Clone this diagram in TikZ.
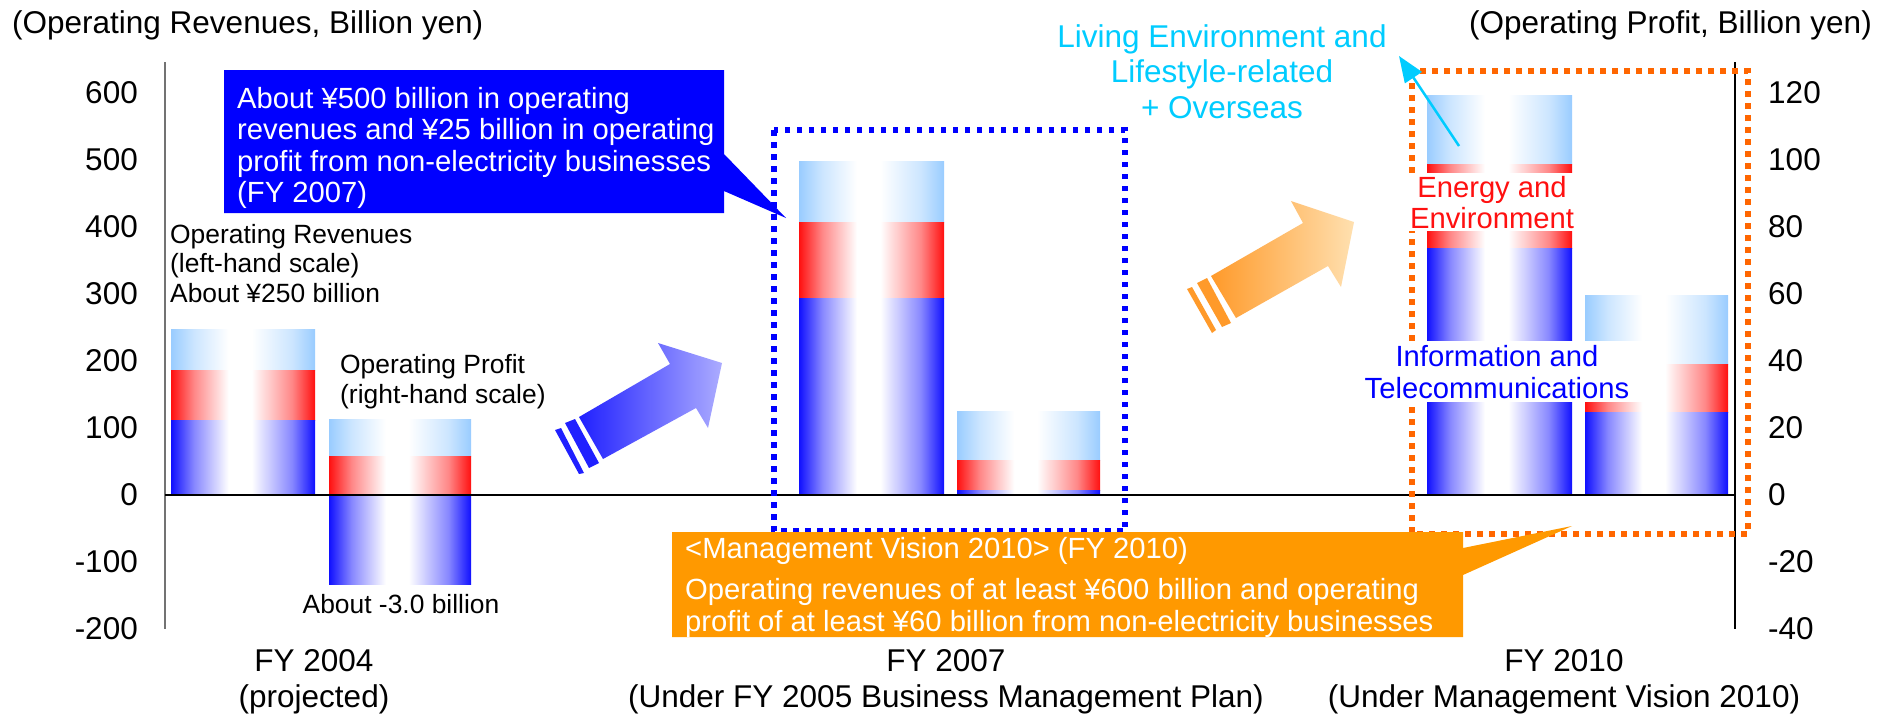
\documentclass[tikz,border=0pt]{standalone}
\usepackage{fontspec}
\setmainfont{Liberation Sans}
\usetikzlibrary{arrows.meta}
\definecolor{segblue}{RGB}{16,16,255}
\definecolor{segred}{RGB}{255,16,16}
\definecolor{seglight}{RGB}{153,204,255}
\colorlet{segblueM}{segblue!50!white}
\colorlet{segredM}{segred!50!white}
\colorlet{seglightM}{seglight!50!white}
\definecolor{boxblue}{RGB}{0,0,255}
\definecolor{boxorange}{RGB}{255,153,0}
\definecolor{dotorange}{RGB}{255,102,0}
\definecolor{livcyan}{RGB}{0,204,255}
\definecolor{arrblueA}{RGB}{32,32,255}
\definecolor{arrblueB}{RGB}{172,172,255}
\definecolor{arrorangeA}{RGB}{255,154,42}
\definecolor{arrorangeB}{RGB}{255,224,176}
\pgfdeclarehorizontalshading{shbl}{100bp}{color(0bp)=(segblue); color(25bp)=(segblue);
  color(33bp)=(segblueM); color(45bp)=(white); color(53bp)=(white);
  color(67bp)=(segblueM); color(75bp)=(segblue); color(100bp)=(segblue)}
\pgfdeclarehorizontalshading{shrd}{100bp}{color(0bp)=(segred); color(25bp)=(segred);
  color(33bp)=(segredM); color(45bp)=(white); color(53bp)=(white);
  color(67bp)=(segredM); color(75bp)=(segred); color(100bp)=(segred)}
\pgfdeclarehorizontalshading{shlb}{100bp}{color(0bp)=(seglight); color(25bp)=(seglight);
  color(33bp)=(seglightM); color(45bp)=(white); color(53bp)=(white);
  color(67bp)=(seglightM); color(75bp)=(seglight); color(100bp)=(seglight)}

\begin{document}
\begin{tikzpicture}[x=1pt,y=-1pt]
  \tikzstyle{every node}=[inner sep=0pt]
  \tikzstyle{big}=[font=\fontsize{31.5}{35.5}\selectfont]
  \tikzstyle{mid}=[font=\fontsize{29.2}{31.5}\selectfont]
  \tikzstyle{small}=[font=\fontsize{26.4}{29.5}\selectfont]
  \tikzstyle{dotbox}=[line width=5.5pt,dash pattern=on 5.5pt off 6.5pt]

  \fill[white] (0,0) rectangle (1890,713);
  \useasboundingbox (0,0) rectangle (1890,713);

  % stacked bars: x from/to, y from/to, shading
  \foreach \xa/\xb/\ya/\yb/\c in {
      171/315/329/370/lb, 171/315/370/420/rd, 171/315/420/495/bl,
      329/471/419/456/lb, 329/471/456/495/rd, 329/471/495/584/bl,
      799/944/161/222/lb, 799/944/222/298/rd, 799/944/298/495/bl,
      957/1100/411/460/lb, 957/1100/460/490/rd, 957/1100/490/495/bl,
      1427/1572/95/164/lb, 1427/1572/164/248/rd, 1427/1572/248/495/bl,
      1585/1728/295/364/lb, 1585/1728/364/412/rd, 1585/1728/412/495/bl}
    \shade[shading=sh\c] (\xa,\ya) rectangle (\xb,\yb);

  % axes
  \draw[black!55,line width=2pt] (165,62) -- (165,629);
  \draw[line width=1.5pt] (1735,62) -- (1735,629);
  \draw[line width=1.5pt] (165,495) -- (1735,495);
  \foreach \v in {600,500,...,-200}
    \node[big,anchor=east] (tickL\v) at (138,{495-0.67*\v}) {\v};
  \foreach \v in {120,100,...,-40}
    \node[big,anchor=west] (tickR\v) at (1768,{495-3.35*\v}) {\v};
  \node[big,anchor=base west] (revtitle) at (12,33) {(Operating Revenues, Billion yen)};
  \node[big,anchor=base east] (proftitle) at (1872,33) {(Operating Profit, Billion yen)};

  % dotted frames
  \draw[dotbox,boxblue] (774,130) rectangle (1125,531);
  \draw[dotbox,dotorange,line width=6.5pt,dash pattern=on 6pt off 6pt] (1412,71) rectangle (1748,534);

  % striped arrows
  \path[left color=arrblueA,right color=arrblueB]
    (579,417) -- (670,364) -- (658,343) -- (722,363) -- (708,428) -- (696,408) -- (603,459) -- cycle;
  \fill[arrblueA] (565,423) -- (575,419) -- (599,463) -- (589,468) -- cycle;
  \fill[arrblueA] (555,430) -- (561,428) -- (584,473) -- (579,474) -- cycle;
  \path[left color=arrorangeA,right color=arrorangeB]
    (1211,276) -- (1303,223) -- (1291,201) -- (1354,222) -- (1341,287) -- (1328,266) -- (1236,318) -- cycle;
  \fill[arrorangeA] (1197,283) -- (1207,278) -- (1231,323) -- (1222,327) -- cycle;
  \fill[arrorangeA] (1187,289) -- (1192,287) -- (1216,330) -- (1212,333) -- cycle;

  % segment labels (base = last line)
  \node[mid,align=center,fill=white,inner xsep=6pt,inner ysep=2.5pt,text=segred,anchor=base]
    (energy) at (1492,228.5) {Energy and\\Environment};
  \node[mid,align=center,fill=white,minimum width=298pt,inner ysep=4pt,text=boxblue,anchor=base]
    (infotel) at (1497,398) {Information and\\Telecommunications};
  \node[big,align=center,text=livcyan,anchor=base] (living) at (1222,118)
    {Living Environment and\\Lifestyle-related\\+ Overseas};
  \coordinate (livpt) at (1459,146);
  \coordinate (livtip) at (1399,56);
  \draw[livcyan,line width=2.5pt,-{Triangle[length=26pt,width=20pt]}] (livpt) -- (livtip);

  % callouts
  \fill[boxblue] (224,70) -- (724,70) -- (724,154) -- (786,218) -- (724,191) -- (724,213) -- (224,213) -- cycle;
  \node[mid,align=left,text=white,anchor=base west] (note07) at (237,202.5)
    {About ¥500 billion in operating\\revenues and ¥25 billion in operating\\profit from non-electricity businesses\\(FY 2007)};
  \fill[boxorange] (672,532) -- (1463,532) -- (1463,548) -- (1572,526) -- (1463,575) -- (1463,637) -- (672,637) -- cycle;
  \node[mid,align=left,text=white,anchor=base west] (note10) at (685,631)
    {<Management Vision 2010> (FY 2010)\\[9.5pt]Operating revenues of at least ¥600 billion and operating\\profit of at least ¥60 billion from non-electricity businesses};

  % bar notes
  \node[small,align=left,anchor=base west] (revnote) at (170,302)
    {Operating Revenues\\(left-hand scale)\\About ¥250 billion};
  \node[small,align=left,anchor=base west] (profnote) at (340,403)
    {Operating Profit\\(right-hand scale)};
  \node[small,anchor=base] (lossnote) at (401,613) {About -3.0 billion};

  % categories
  \node[big,align=center,anchor=base] (fy04) at (314,707) {FY 2004\\(projected)};
  \node[big,align=center,anchor=base] (fy07) at (946,707) {FY 2007\\(Under FY 2005 Business Management Plan)};
  \node[big,align=center,anchor=base] (fy10) at (1564,707) {FY 2010\\(Under Management Vision 2010)};
\end{tikzpicture}
\end{document}
